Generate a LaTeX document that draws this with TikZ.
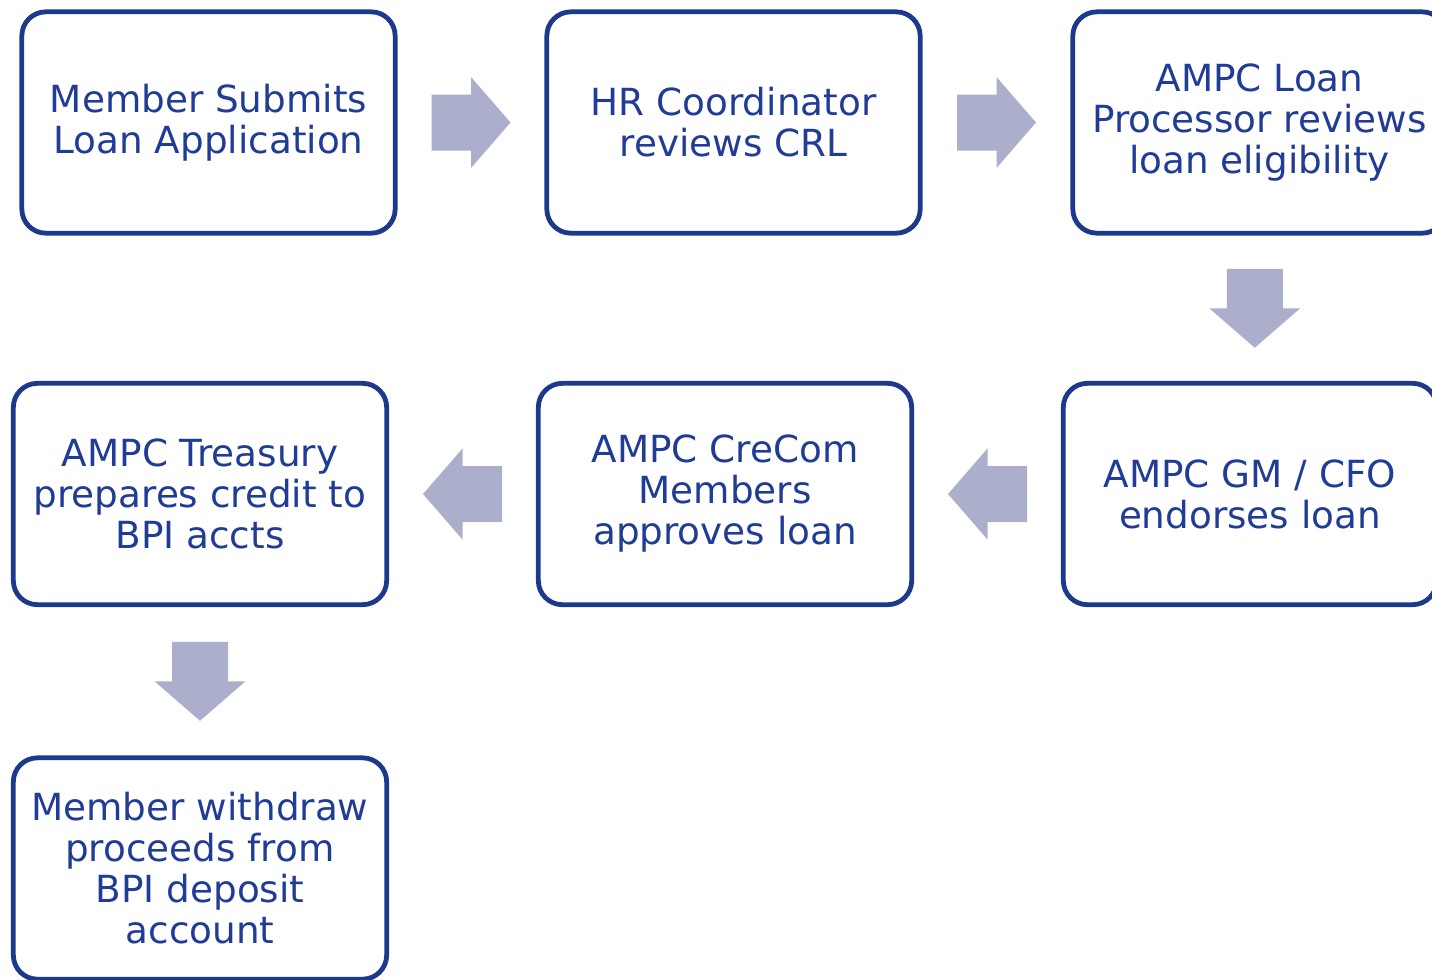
\documentclass[tikz,border=0pt]{standalone}
\usepackage{fontspec}
\setmainfont{DejaVu Sans}
\usetikzlibrary{calc}

\definecolor{boxblue}{RGB}{28,57,140}
\definecolor{txtblue}{RGB}{32,60,150}
\definecolor{arrowgray}{RGB}{171,175,203}

\begin{document}
\begin{tikzpicture}[x=0.75pt,y=-0.75pt,
  stepbox/.style={draw=boxblue, line width=3.6pt, rounded corners=18pt,
    minimum width=280pt, minimum height=166pt, inner sep=0pt,
    align=center, text=txtblue, font=\fontsize{28pt}{30.75pt}\selectfont},
  blockarr/.pic={\fill[arrowgray] (-39.5,-28) -- (0,-28) -- (0,-45.5)
    -- (39.5,0) -- (0,45.5) -- (0,28) -- (-39.5,28) -- cycle;}]
  \useasboundingbox (0,0) rectangle (1432,979);
  \clip (0,0) rectangle (1432,979);

  % first row
  \node[stepbox] (submit) at (208.5,122.5) {Member Submits\\Loan Application};
  \node[stepbox] (hr) at (733.5,122.5) {HR Coordinator\\reviews CRL};
  \node[stepbox] (proc) at (1259.5,122.5) {AMPC Loan\\Processor reviews\\loan eligibility};

  % second row
  \node[stepbox] (treas) at (200,494) {AMPC Treasury\\prepares credit to\\BPI accts};
  \node[stepbox] (crecom) at (725,494) {AMPC CreCom\\Members\\approves loan};
  \node[stepbox] (gm) at (1250,494) {AMPC GM / CFO\\endorses loan};

  % last step
  \node[stepbox] (withdraw) at (200,868.5) {Member withdraw\\proceeds from\\BPI deposit\\account};

  % block arrows
  \pic at ($(submit.east)!0.5!(hr.west)$) {blockarr};
  \pic at ($(hr.east)!0.5!(proc.west)$) {blockarr};
  \pic[rotate=-90] at ($(proc.south)!0.5!(gm.north)$) {blockarr};
  \pic[rotate=180] at ($(gm.west)!0.5!(crecom.east)$) {blockarr};
  \pic[rotate=180] at ($(crecom.west)!0.5!(treas.east)$) {blockarr};
  \pic[rotate=-90] at ($(treas.south)!0.5!(withdraw.north)$) {blockarr};
\end{tikzpicture}
\end{document}
